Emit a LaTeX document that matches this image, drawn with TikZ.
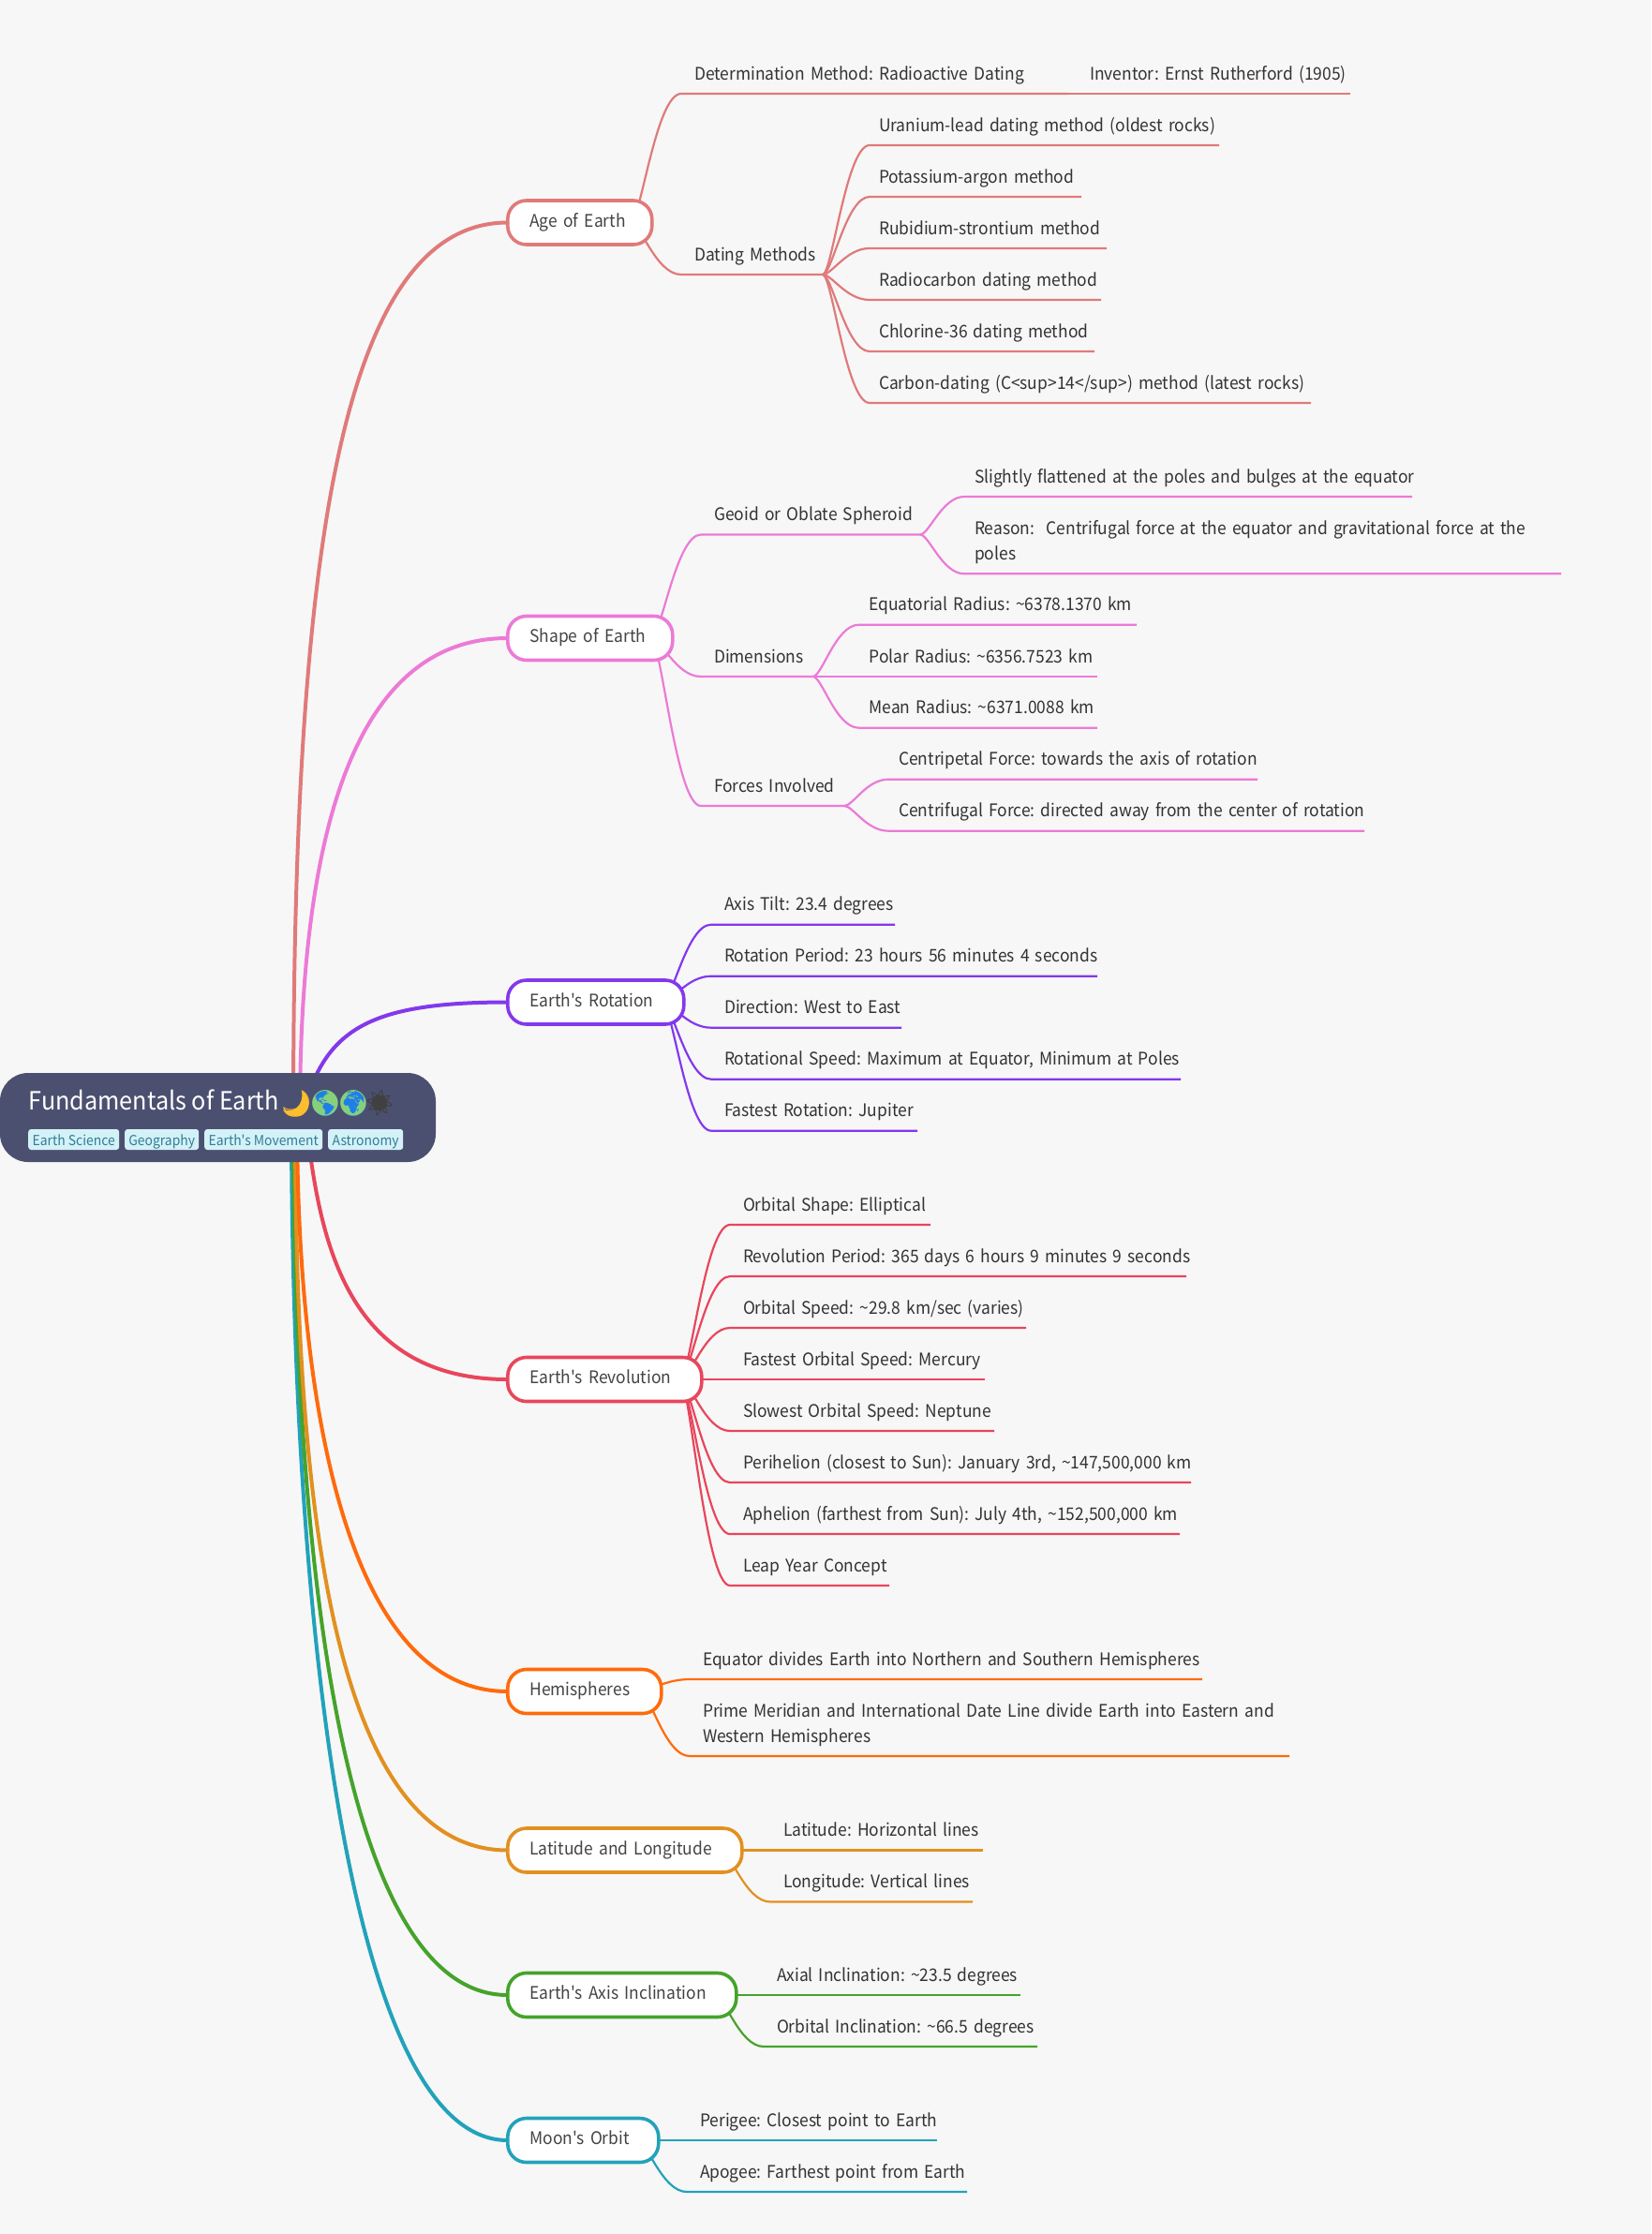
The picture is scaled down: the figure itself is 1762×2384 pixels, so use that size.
\documentclass[tikz,border=0pt]{standalone}
\usepackage{fontspec}
\setmainfont[Ligatures=TeXOff,FakeStretch=0.94]{Noto Sans CJK SC}
\newfontfamily\emojifont{Noto Emoji}
\newcommand{\mapfont}{\fontsize{18.55}{26.6}\selectfont\frenchspacing\spaceskip=3.3pt\relax}
\usetikzlibrary{calc}
\pgfdeclarelayer{back}
\pgfsetlayers{back,main}
\definecolor{bgC}{HTML}{F7F7F7}
\definecolor{rootC}{HTML}{4C5070}
\definecolor{tagC}{HTML}{D5F1F8}
\definecolor{tagT}{HTML}{2E7E96}
\definecolor{ageC}{HTML}{E07A7A}
\definecolor{shapeC}{HTML}{EC7AD6}
\definecolor{rotC}{HTML}{8338EC}
\definecolor{revC}{HTML}{E8465C}
\definecolor{hemC}{HTML}{FF6A0C}
\definecolor{latC}{HTML}{E29020}
\definecolor{axisC}{HTML}{45A32B}
\definecolor{moonC}{HTML}{22A2BA}
\definecolor{leafT}{HTML}{333333}
\definecolor{boxT}{HTML}{444444}
\definecolor{moonY}{HTML}{FDBE2E}
\definecolor{globeB}{HTML}{1F7FE8}
\definecolor{globeG}{HTML}{86D07C}
\definecolor{sunC}{HTML}{404040}
\tikzset{
  mainline/.style={line width=4pt},
  subline/.style={line width=2.2pt},
  branchbox/.style={rectangle,rounded corners=20pt,fill=white,line width=3.6pt,minimum height=47pt,
    inner xsep=23.5pt,inner ysep=0pt,outer sep=0pt,align=left,text=boxT,text height=13pt,text depth=4pt,
    font=\mapfont},
  leafnode/.style={rectangle,inner sep=0pt,outer sep=0pt,align=left,text=leafT,text depth=14.9pt,
    font=\mapfont},
  twolines/.style={text depth=41.5pt},
  tagbox/.style={rectangle,rounded corners=3pt,fill=tagC,text=tagT,inner sep=0pt,minimum height=22pt,
    text height=13pt,text depth=0pt,font=\fontsize{14.8}{18}\selectfont},
  emo/.style={inner sep=0pt,font=\fontsize{27}{30}\emojifont}
}
% \bigbranch{name}{colour}{right x}{centre y}{text}
\newcommand{\bigbranch}[5]{%
  \node[branchbox,draw=#2,anchor=west,text width={(#3-590)*1pt}] (#1) at (541.8,#4) {\mbox{#5}};
  \coordinate (#1-o) at ($(#1.east)+(-23,0)$);
}
% \leafraw[opts]{name}{parent coordinate}{colour}{inset}{text x}{line y}{line end x}{text}
\newcommand{\leafraw}[9][]{%
  \node[leafnode,anchor=south west,text width={(#8-#6)*1pt},#1] (#2) at (#6,#7) {#9};
  \coordinate (#2-t) at ($(#2.south west)+(-#5,0)$);
  \begin{pgfonlayer}{back}
    \draw[subline,draw=#4] let \p1=(#3),\p2=(#2-t) in
      (\p1) .. controls (\x1+0.2*\x2-0.2*\x1,\y1) and (\x1+0.5*\x2-0.5*\x1,\y2) .. (\p2) -- (#2.south east);
  \end{pgfonlayer}
}
\newcommand{\leaf}[9][]{\leafraw[#1]{#2}{#3}{#4}{#5}{#6}{#7}{#8}{\mbox{#9}}}
\begin{document}
\begin{tikzpicture}[x=1pt,y=-1pt]
\useasboundingbox (0,0) rectangle (1762,2384);
\begin{pgfonlayer}{back}
  \fill[bgC] (0,0) rectangle (1762,2384);
\end{pgfonlayer}

% root
\node[rectangle,fill=rootC,rounded corners=30pt,anchor=north west,minimum width=465pt,minimum height=95pt,inner sep=0pt,outer sep=0pt] (root) at (0,1145) {};
\node[anchor=base west,inner sep=0pt,text=white,font=\fontsize{26.8}{30}\selectfont] (title) at (30.5,1184) {Fundamentals of Earth};
\fill[moonY] (322,1164) .. controls (335,1172) and (331,1194) .. (312,1191.5) .. controls (307,1191) and (304,1188) .. (302,1184) .. controls (312,1189) and (325,1180) .. (322,1164) -- cycle;
\fill[globeB] (347,1177.5) circle (13.5);
\fill[globeB] (377,1177.5) circle (13.5);
\fill[sunC] (405,1177) circle (7.5);
\node[emo,text=moonY] (emoA) at (316,1177) {🌙};
\node[emo,text=globeG] (emoB) at (347,1177) {🌎};
\node[emo,text=globeG] (emoC) at (377,1177) {🌍};
\node[emo,text=sunC] (emoD) at (405,1177) {☀};
\node[tagbox,anchor=west,minimum width=97pt] (tagA) at (30,1216) {Earth Science};
\node[tagbox,anchor=west,minimum width=79pt] (tagB) at (133,1216) {Geography};
\node[tagbox,anchor=west,minimum width=126pt] (tagC) at (218,1216) {Earth's Movement};
\node[tagbox,anchor=west,minimum width=80pt] (tagD) at (350,1216) {Astronomy};

% branch boxes
\bigbranch{age}{ageC}{697}{237.5}{Age of Earth}
\bigbranch{shape}{shapeC}{719}{681}{Shape of Earth}
\bigbranch{rot}{rotC}{731}{1069.5}{Earth's Rotation}
\bigbranch{rev}{revC}{750}{1472}{Earth's Revolution}
\bigbranch{hem}{hemC}{707}{1805}{Hemispheres}
\bigbranch{lat}{latC}{793}{1974.5}{Latitude and Longitude}
\bigbranch{axis}{axisC}{787}{2129}{Earth's Axis Inclination}
\bigbranch{moon}{moonC}{704}{2284}{Moon's Orbit}

% root connectors
\coordinate (r1) at (313,1192);
\coordinate (r2) at (320,1192);
\coordinate (r3) at (322,1192);
\coordinate (r4) at (326,1192);
\coordinate (r5) at (317,1192);
\coordinate (r6) at (315,1192);
\coordinate (r7) at (313,1192);
\coordinate (r8) at (311,1192);
\begin{pgfonlayer}{back}
\draw[mainline,draw=moonC]  (r8) .. controls (311,1683) and (365,2284) .. (moon.west);
\draw[mainline,draw=axisC]  (r7) .. controls (313,1614) and (355,2129) .. (axis.west);
\draw[mainline,draw=latC]   (r6) .. controls (315,1583) and (350,1974.5) .. (lat.west);
\draw[mainline,draw=hemC]   (r5) .. controls (317,1498) and (370,1805) .. (hem.west);
\draw[mainline,draw=revC]   (r4) .. controls (340,1310) and (362,1472) .. (rev.west);
\draw[mainline,draw=rotC]   (r3) .. controls (345,1100) and (390,1069.5) .. (rot.west);
\draw[mainline,draw=shapeC] (r2) .. controls (320,937) and (360,681) .. (shape.west);
\draw[mainline,draw=ageC]   (r1) .. controls (313,615) and (358,237.5) .. (age.west);
\end{pgfonlayer}

% Age of Earth
\leaf{determ}{age-o}{ageC}{14}{741}{100}{1140}{Determination Method: Radioactive Dating}
\leaf{invent}{determ.south east}{ageC}{0}{1163}{100}{1441}{Inventor: Ernst Rutherford (1905)}
\leaf{dating}{age-o}{ageC}{14}{741}{293}{878}{Dating Methods}
\leaf{ura}{dating.south east}{ageC}{10}{938}{155}{1301}{Uranium-lead dating method (oldest rocks)}
\leaf{pot}{dating.south east}{ageC}{10}{938}{210}{1154}{Potassium-argon method}
\leaf{rub}{dating.south east}{ageC}{10}{938}{265}{1181}{Rubidium-strontium method}
\leaf{rad}{dating.south east}{ageC}{10}{938}{320}{1175}{Radiocarbon dating method}
\leaf{chl}{dating.south east}{ageC}{10}{938}{375}{1168}{Chlorine-36 dating method}
\leaf{car}{dating.south east}{ageC}{10}{938}{430}{1399}{Carbon-dating (C<sup>14</sup>) method (latest rocks)}

% Shape of Earth
\leaf{geoid}{shape-o}{shapeC}{14}{762}{570.5}{982}{Geoid or Oblate Spheroid}
\leaf{dims}{shape-o}{shapeC}{14}{762}{722}{867.5}{Dimensions}
\leaf{forces}{shape-o}{shapeC}{14}{762}{860}{901}{Forces Involved}
\leaf{flat}{geoid.south east}{shapeC}{11}{1040}{530}{1507}{Slightly flattened at the poles and bulges at the equator}
\leafraw[twolines]{reason}{geoid.south east}{shapeC}{11}{1040}{612.3}{1666}{\mbox{Reason:\ \ Centrifugal force at the equator and gravitational force at the}\\\mbox{poles}}
\leaf{equat}{dims.south east}{shapeC}{11}{927.5}{666.7}{1213}{Equatorial Radius: \textasciitilde6378.1370 km}
\leaf{polar}{dims.south east}{shapeC}{11}{927.5}{722}{1171}{Polar Radius: \textasciitilde6356.7523 km}
\leaf{meanr}{dims.south east}{shapeC}{11}{927.5}{776.7}{1171}{Mean Radius: \textasciitilde6371.0088 km}
\leaf{centri}{forces.south east}{shapeC}{11}{959}{831.7}{1342}{Centripetal Force: towards the axis of rotation}
\leaf{centrf}{forces.south east}{shapeC}{11}{959}{886.7}{1456}{Centrifugal Force: directed away from the center of rotation}

% Earth's Rotation
\leaf{tilt}{rot-o}{rotC}{14}{773}{986.7}{955}{Axis Tilt: 23.4 degrees}
\leaf{rper}{rot-o}{rotC}{14}{773}{1041.7}{1171}{Rotation Period: 23 hours 56 minutes 4 seconds}
\leaf{rdir}{rot-o}{rotC}{14}{773}{1096.7}{962}{Direction: West to East}
\leaf{rspd}{rot-o}{rotC}{14}{773}{1151.7}{1260}{Rotational Speed: Maximum at Equator, Minimum at Poles}
\leaf{rfst}{rot-o}{rotC}{14}{773}{1206.7}{979}{Fastest Rotation: Jupiter}

% Earth's Revolution
\leaf{orbs}{rev-o}{revC}{14}{793}{1307}{993}{Orbital Shape: Elliptical}
\leaf{orbp}{rev-o}{revC}{14}{793}{1362}{1266}{Revolution Period: 365 days 6 hours 9 minutes 9 seconds}
\leaf{orbv}{rev-o}{revC}{14}{793}{1417}{1095}{Orbital Speed: \textasciitilde29.8 km/sec (varies)}
\leaf{orbf}{rev-o}{revC}{14}{793}{1472}{1051}{Fastest Orbital Speed: Mercury}
\leaf{orbl}{rev-o}{revC}{14}{793}{1527}{1061}{Slowest Orbital Speed: Neptune}
\leaf{peri}{rev-o}{revC}{14}{793}{1582}{1271}{Perihelion (closest to Sun): January 3rd, \textasciitilde147,500,000 km}
\leaf{aphe}{rev-o}{revC}{14}{793}{1637}{1259}{Aphelion (farthest from Sun): July 4th, \textasciitilde152,500,000 km}
\leaf{leap}{rev-o}{revC}{14}{793}{1692}{949}{Leap Year Concept}

% Hemispheres
\leaf{eqdiv}{hem-o}{hemC}{14}{750}{1792}{1283}{Equator divides Earth into Northern and Southern Hemispheres}
\leafraw[twolines]{prime}{hem-o}{hemC}{14}{750}{1874}{1376}{\mbox{Prime Meridian and International Date Line divide Earth into Eastern and}\\\mbox{Western Hemispheres}}

% Latitude and Longitude
\leaf{latit}{lat-o}{latC}{14}{836}{1974.5}{1049}{Latitude: Horizontal lines}
\leaf{longi}{lat-o}{latC}{14}{836}{2029.5}{1038}{Longitude: Vertical lines}

% Axis
\leaf{axial}{axis-o}{axisC}{14}{829}{2129}{1089}{Axial Inclination: \textasciitilde23.5 degrees}
\leaf{orbin}{axis-o}{axisC}{14}{829}{2184}{1107}{Orbital Inclination: \textasciitilde66.5 degrees}

% Moon
\leaf{perig}{moon-o}{moonC}{14}{747}{2284}{1000}{Perigee: Closest point to Earth}
\leaf{apog}{moon-o}{moonC}{14}{747}{2339}{1032}{Apogee: Farthest point from Earth}
\end{tikzpicture}
\end{document}
